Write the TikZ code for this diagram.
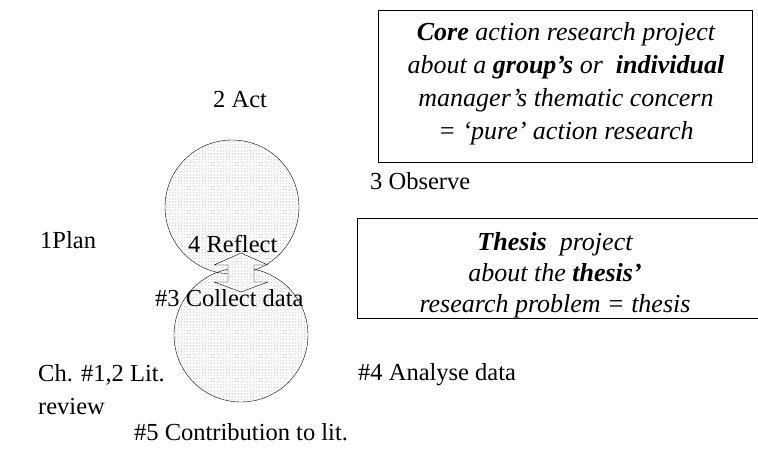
\documentclass[tikz,border=0pt]{standalone}
\usepackage{fontspec}
\setmainfont{Liberation Serif}
\usetikzlibrary{patterns}

\begin{document}
\begin{tikzpicture}
	[x=1pt, y=-1pt, font=\fontsize{24.5}{30}\selectfont,
	cycle/.style = {draw, circle, pattern=crosshatch dots, pattern color=gray!40, minimum size=134pt},
	lbl/.style = {inner sep=0pt, anchor=west},
	project/.style = {draw, inner sep=0pt},
	projtext/.style = {align=center, inner sep=0pt, font=\fontsize{26}{33}\selectfont\itshape}]
	\useasboundingbox (0,0) rectangle (758,449);
	\node[cycle] (act) at (232,207) {};
	\node[cycle] (data) at (241,335) {};
	% block arrow between the two cycles
	\coordinate (mid) at (241,272);
	\fill[white] ([shift={(0,-19)}]mid) -- ++(27,12) -- ++(-14,0) -- ++(0,17) -- ++(14,0)
		-- ++(-27,10) -- ++(-27,-10) -- ++(14,0) -- ++(0,-17) -- ++(-14,0) -- cycle;
	\draw[pattern=crosshatch dots, pattern color=gray!40] ([shift={(0,-19)}]mid) -- ++(27,12) -- ++(-14,0) -- ++(0,17) -- ++(14,0)
		-- ++(-27,10) -- ++(-27,-10) -- ++(14,0) -- ++(0,-17) -- ++(-14,0) -- cycle;
	\node[lbl] (a2) at (213,100) {2 Act};
	\node[lbl] (a1) at (40,240) {1Plan};
	\node[lbl] (a3) at (370,181) {3 Observe};
	\node[lbl] (a4) at (188,244) {4 Reflect};
	\node[lbl] (t3) at (155,298) {\#3 Collect data};
	\node[lbl, align=left, font=\fontsize{24.5}{33}\selectfont] (t12) at (38,390) {Ch. \#1,2 Lit.\\review};
	\node[lbl] (t4) at (358,375) {\#4 Analyse data};
	\node[lbl] (t5) at (134,432) {\#5 Contribution to lit.};
	% the two projects
	\node[project, minimum width=374pt, minimum height=152pt] (core) at (565,86) {};
	\node[projtext] (coretext) at (566,84)
		{\textbf{Core} action research project\\about a \textbf{group's} or \ \textbf{individual}\\manager's thematic concern\\= `pure' action research};
	\node[project, minimum width=410pt, minimum height=100pt] (thesis) at (562,268) {};
	\node[projtext, font=\fontsize{26}{31}\selectfont\itshape] (thesistext) at (555,275)
		{\textbf{Thesis} \ project\\about the \textbf{thesis'}\\research problem = thesis};
\end{tikzpicture}
\end{document}
